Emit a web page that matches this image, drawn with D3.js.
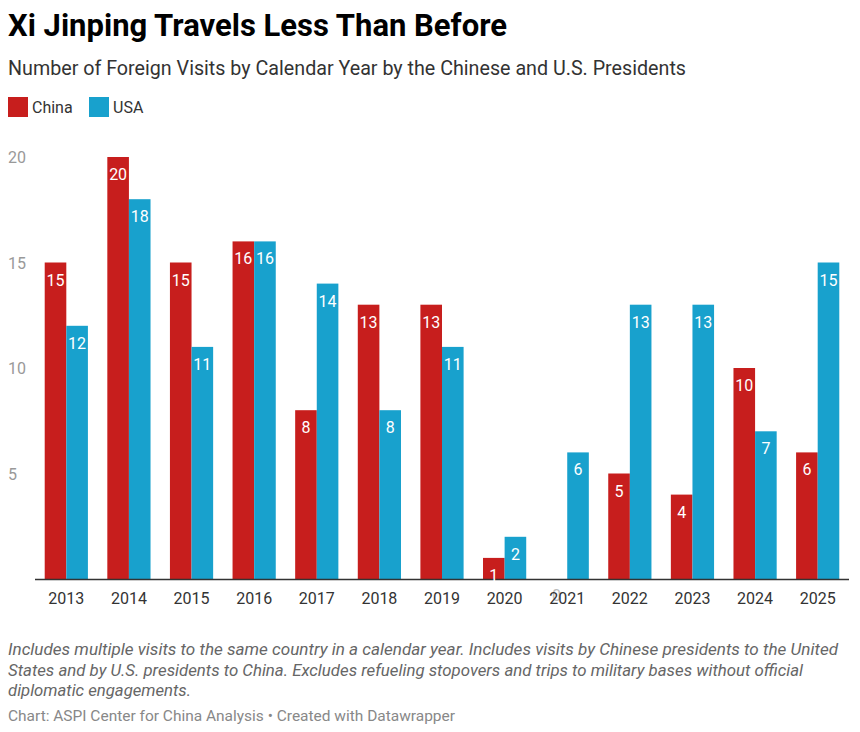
<!DOCTYPE html>
<head>
  <meta charset="utf-8">
  <script src="https://d3js.org/d3.v7.min.js"></script>
  <style>
    body { margin: 0; background: #fff; font-family: Roboto, "Noto Sans", sans-serif; }
    text { font-family: Roboto, "Noto Sans", sans-serif; }
  </style>
</head>
<body>
  <svg width="860" height="732"></svg>
  <script>

  // data
  var years = ["2013","2014","2015","2016","2017","2018","2019","2020","2021","2022","2023","2024","2025"];
  var china = [15, 20, 15, 16, 8, 13, 13, 1, 0, 5, 4, 10, 6];
  var usa   = [12, 18, 11, 16, 14, 8, 11, 2, 6, 13, 13, 7, 15];
  var seriesNames = ["China", "USA"];
  var colors = ["#c71e1d", "#18a1cd"];
  var yTicks = [5, 10, 15, 20];

  var svg = d3.select("svg"),
  width = +svg.attr("width"),
  height = +svg.attr("height");

  // header
  svg.append("text")
  .attr("x", 8).attr("y", 36)
  .style("font-size", "31px").style("font-weight", "700").style("fill", "#000")
  .text("Xi Jinping Travels Less Than Before");

  svg.append("text")
  .attr("x", 8).attr("y", 75)
  .style("font-size", "19.7px").style("fill", "#333")
  .text("Number of Foreign Visits by Calendar Year by the Chinese and U.S. Presidents");

  // legend
  var legend = svg.append("g").selectAll("g")
  .data(seriesNames)
  .enter().append("g")
  .attr("transform", function(d, i) { return "translate(" + (8 + i * 81) + ",97)"; });

  legend.append("rect")
  .attr("width", 20).attr("height", 20)
  .attr("fill", function(d, i) { return colors[i]; });

  legend.append("text")
  .attr("x", 24).attr("y", 16)
  .style("font-size", "16px").style("fill", "#333")
  .text(function(d) { return d; });

  // chart
  var x = d3.scaleBand().domain(years).range([35, 849]).paddingInner(0.31).paddingOuter(0.155);
  var x1 = d3.scaleBand().domain(seriesNames).range([0, x.bandwidth()]);
  var y = d3.scaleLinear().domain([0, 20]).range([579, 157]);

  // y labels
  svg.append("g").selectAll("text")
  .data(yTicks)
  .enter().append("text")
  .attr("x", 8).attr("y", function(d) { return y(d) + 6; })
  .style("font-size", "16px").style("fill", "#999")
  .text(function(d) { return d; });

  var rows = [];
  years.forEach(function(yr, i) {
    rows.push({year: yr, key: "China", value: china[i], c: colors[0]});
    rows.push({year: yr, key: "USA", value: usa[i], c: colors[1]});
  });

  svg.append("g").selectAll("rect")
  .data(rows)
  .enter().append("rect")
  .attr("x", function(d) { return x(d.year) + x1(d.key); })
  .attr("y", function(d) { return y(d.value); })
  .attr("width", x1.bandwidth())
  .attr("height", function(d) { return y(0) - y(d.value); })
  .attr("fill", function(d) { return d.c; });

  // baseline
  svg.append("line")
  .attr("x1", 35).attr("x2", 849)
  .attr("y1", y(0) + 0.5).attr("y2", y(0) + 0.5)
  .attr("stroke", "#333").attr("stroke-width", 1.3);

  // value labels
  svg.append("g").selectAll("text")
  .data(rows)
  .enter().append("text")
  .attr("x", function(d) { return x(d.year) + x1(d.key) + x1.bandwidth() / 2; })
  .attr("y", function(d) { return d.value == 0 ? y(0) + 22 : y(d.value) + 23; })
  .attr("text-anchor", "middle")
  .style("font-size", "16px")
  .style("fill", function(d) { return d.value == 0 ? "#bbb" : "#fff"; })
  .text(function(d) { return d.value; });

  // x labels
  svg.append("g").selectAll("text")
  .data(years)
  .enter().append("text")
  .attr("x", function(d) { return x(d) + x.bandwidth() / 2; })
  .attr("y", 604)
  .attr("text-anchor", "middle")
  .style("font-size", "16px").style("fill", "#333")
  .text(function(d) { return d; });

  // notes
  var notes = [
    "Includes multiple visits to the same country in a calendar year. Includes visits by Chinese presidents to the United",
    "States and by U.S. presidents to China. Excludes refueling stopovers and trips to military bases without official",
    "diplomatic engagements."
  ];
  var noteWidths = [830, 795, 183];
  svg.append("g").selectAll("text")
  .data(notes)
  .enter().append("text")
  .attr("x", 8).attr("y", function(d, i) { return 655 + i * 20.5; })
  .attr("textLength", function(d, i) { return noteWidths[i]; })
  .attr("lengthAdjust", "spacingAndGlyphs")
  .style("font-size", "16px").style("font-style", "italic").style("fill", "#666")
  .text(function(d) { return d; });

  svg.append("text")
  .attr("x", 8).attr("y", 721)
  .attr("textLength", 447).attr("lengthAdjust", "spacingAndGlyphs")
  .style("font-size", "15px").style("fill", "#888")
  .text("Chart: ASPI Center for China Analysis \u2022 Created with Datawrapper");

  </script>
</body>
